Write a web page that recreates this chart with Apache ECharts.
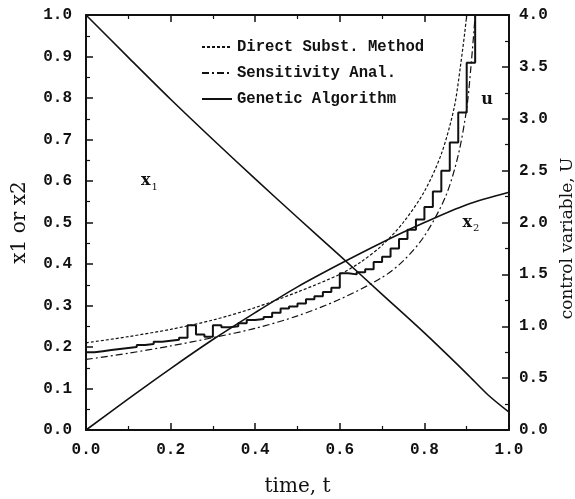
<!DOCTYPE html>
<html>
<head>
<meta charset="utf-8">
<title>control variable</title>
<script src="https://cdn.jsdelivr.net/npm/echarts@6/dist/echarts.min.js"></script>
<style>
    html, body {margin: 0; padding: 0; background: #fff;}
    .layer {position: absolute; left: 0; top: 0; width: 575px; height: 499px;}
</style>
</head>
<body>
<div id="frame" class="layer"></div>
<div id="main" class="layer"></div>
<script>
// state variables (left axis)
var x1Time = [0, 0.1, 0.2, 0.3, 0.4, 0.5, 0.6, 0.7, 0.8, 0.9, 0.95, 1.0];
var x1Value = [1.0, 0.898, 0.797, 0.700, 0.605, 0.512, 0.420, 0.327, 0.234, 0.136, 0.085, 0.043];
var x2Time = [0, 0.1, 0.2, 0.3, 0.4, 0.5, 0.6, 0.7, 0.8, 0.9, 1.0];
var x2Value = [0, 0.075, 0.148, 0.218, 0.283, 0.345, 0.400, 0.452, 0.500, 0.543, 0.573];

// control variable U (right axis)
var directTime = [0, 0.1, 0.2, 0.3, 0.4, 0.5, 0.6, 0.65, 0.7, 0.75, 0.8, 0.84, 0.87, 0.885, 0.9, 0.91];
var directValue = [0.84, 0.90, 0.97, 1.06, 1.18, 1.33, 1.50, 1.62, 1.78, 2.00, 2.30, 2.66, 3.10, 3.50, 4.0, 4.5];
var sensTime = [0, 0.1, 0.2, 0.3, 0.4, 0.5, 0.6, 0.7, 0.75, 0.8, 0.85, 0.88, 0.9, 0.91, 0.92, 0.93];
var sensValue = [0.68, 0.74, 0.81, 0.89, 0.98, 1.10, 1.26, 1.47, 1.63, 1.87, 2.25, 2.65, 3.10, 3.50, 4.0, 4.6];
var gaTime = [0, 0.02, 0.04, 0.06, 0.08, 0.10, 0.12, 0.14, 0.16, 0.18, 0.20, 0.22, 0.24, 0.26, 0.28, 0.30,
    0.32, 0.34, 0.36, 0.38, 0.40, 0.42, 0.44, 0.46, 0.48, 0.50, 0.52, 0.54, 0.56, 0.58, 0.60, 0.62,
    0.64, 0.66, 0.68, 0.70, 0.72, 0.74, 0.76, 0.78, 0.80, 0.82, 0.84, 0.86, 0.88, 0.90, 0.92, 0.94];
var gaValue = [0.75, 0.76, 0.77, 0.78, 0.79, 0.80, 0.82, 0.83, 0.85, 0.86, 0.87, 0.89, 1.01, 0.92, 0.90, 1.01,
    0.99, 1.00, 1.03, 1.06, 1.07, 1.09, 1.13, 1.17, 1.19, 1.22, 1.26, 1.29, 1.33, 1.37, 1.51, 1.50,
    1.52, 1.55, 1.62, 1.67, 1.75, 1.84, 1.93, 2.03, 2.15, 2.30, 2.50, 2.77, 3.06, 3.54, 4.5, 4.5];

function pairs(xs, ys) {
    return xs.map(function (x, i) { return [x, ys[i]]; });
}

var FONT = 'Liberation Mono';
var SERIF = 'DejaVu Serif';
var INK = '#111';
var GRID = {left: 86, right: 66, top: 15, bottom: 69, outerBoundsMode: 'none'};

// bottom layer: axis lines and inward ticks only
function frameAxis(position, min, max, interval) {
    return {
        type: 'value', position: position, min: min, max: max, interval: interval,
        axisLine: {show: true, onZero: false, lineStyle: {color: INK, width: 2}},
        axisTick: {show: true, inside: true, length: 7, lineStyle: {color: INK, width: 1.5}},
        minorTick: {show: true, splitNumber: 2, length: 4, lineStyle: {color: INK, width: 1.2}},
        splitLine: {show: false},
        axisLabel: {show: false}
    };
}

// top layer: tick labels and axis names, no lines
function labelAxis(position, min, max, interval, margin) {
    return {
        type: 'value', position: position, min: min, max: max, interval: interval,
        axisLine: {show: false, onZero: false},
        axisTick: {show: false},
        minorTick: {show: false},
        splitLine: {show: false},
        axisLabel: {
            show: margin > 0, margin: margin,
            color: INK, fontFamily: FONT, fontSize: 16, fontWeight: 'bold',
            formatter: function (v) { return v.toFixed(1); }
        }
    };
}

var frameChart = echarts.init(document.getElementById('frame'));
frameChart.setOption({
    animation: false,
    grid: GRID,
    xAxis: [frameAxis('bottom', 0, 1, 0.2), frameAxis('top', 0, 1, 0.2)],
    yAxis: [frameAxis('left', 0, 1, 0.1), frameAxis('right', 0, 4, 0.5)],
    series: [
        {
            name: 'x1', type: 'line', xAxisIndex: 0, yAxisIndex: 0,
            data: pairs(x1Time, x1Value), smooth: 0.3, symbol: 'none',
            lineStyle: {color: INK, width: 1.6}
        }
    ]
});

var xBottom = Object.assign(labelAxis('bottom', 0, 1, 0.2, 12), {
    name: 'time, t', nameLocation: 'middle', nameGap: 47,
    nameTextStyle: {color: INK, fontFamily: SERIF, fontSize: 20}
});
var xTop = labelAxis('top', 0, 1, 0.2, 0);
var yLeft = Object.assign(labelAxis('left', 0, 1, 0.1, 14), {
    name: 'x1 or x2', nameLocation: 'middle', nameGap: 56, nameRotate: 90,
    nameTextStyle: {color: INK, fontFamily: SERIF, fontSize: 20}
});
var yRight = Object.assign(labelAxis('right', 0, 4, 0.5, 10), {
    name: 'control variable, U', nameLocation: 'middle', nameGap: 44, nameRotate: 90,
    nameTextStyle: {color: INK, fontFamily: SERIF, fontSize: 17, padding: [0, 32, 0, 0]}
});

var subRich = {
    x: {fontFamily: SERIF, fontSize: 16, color: INK, fontWeight: 'bold'},
    s: {fontFamily: SERIF, fontSize: 10, color: INK, padding: [12, 0, 0, 1]}
};

var myChart = echarts.init(document.getElementById('main'));
myChart.setOption({
    animation: false,
    grid: GRID,
    legend: {
        orient: 'vertical', left: 196, top: 34,
        itemWidth: 30, itemHeight: 10, itemGap: 10,
        itemStyle: {opacity: 0},
        textStyle: {color: INK, fontFamily: FONT, fontSize: 15.6, fontWeight: 'bold'},
        data: ['Direct Subst. Method', 'Sensitivity Anal.', 'Genetic Algorithm']
    },
    xAxis: [xBottom, xTop],
    yAxis: [yLeft, yRight],
    series: [
        {
            name: 'x2', type: 'line', xAxisIndex: 0, yAxisIndex: 0,
            data: pairs(x2Time, x2Value), smooth: 0.3, symbol: 'none',
            lineStyle: {color: INK, width: 1.6},
            markPoint: {
                symbol: 'circle', symbolSize: 0,
                label: {show: true, position: 'inside', rich: subRich},
                data: [
                    {coord: [0.15, 0.6], label: {formatter: '{x|x}{s|1}'}},
                    {coord: [0.91, 0.5], label: {formatter: '{x|x}{s|2}'}}
                ]
            }
        },
        {
            name: 'Direct Subst. Method', type: 'line', xAxisIndex: 0, yAxisIndex: 1,
            data: pairs(directTime, directValue), smooth: 0.3, symbol: 'none',
            itemStyle: {color: INK},
            lineStyle: {color: INK, width: 1.2, type: [3, 2]}
        },
        {
            name: 'Sensitivity Anal.', type: 'line', xAxisIndex: 0, yAxisIndex: 1,
            data: pairs(sensTime, sensValue), smooth: 0.3, symbol: 'none',
            itemStyle: {color: INK},
            lineStyle: {color: INK, width: 1.2, type: [7, 3, 2, 3]}
        },
        {
            name: 'Genetic Algorithm', type: 'line', xAxisIndex: 0, yAxisIndex: 1,
            data: pairs(gaTime, gaValue), step: 'end', symbol: 'none',
            itemStyle: {color: INK},
            lineStyle: {color: INK, width: 2},
            markPoint: {
                symbol: 'circle', symbolSize: 0,
                label: {show: true, position: 'inside', formatter: 'u', color: INK, fontFamily: SERIF, fontSize: 16, fontWeight: 'bold'},
                data: [{coord: [0.948, 3.18]}]
            }
        }
    ]
});
</script>
</body>
</html>
